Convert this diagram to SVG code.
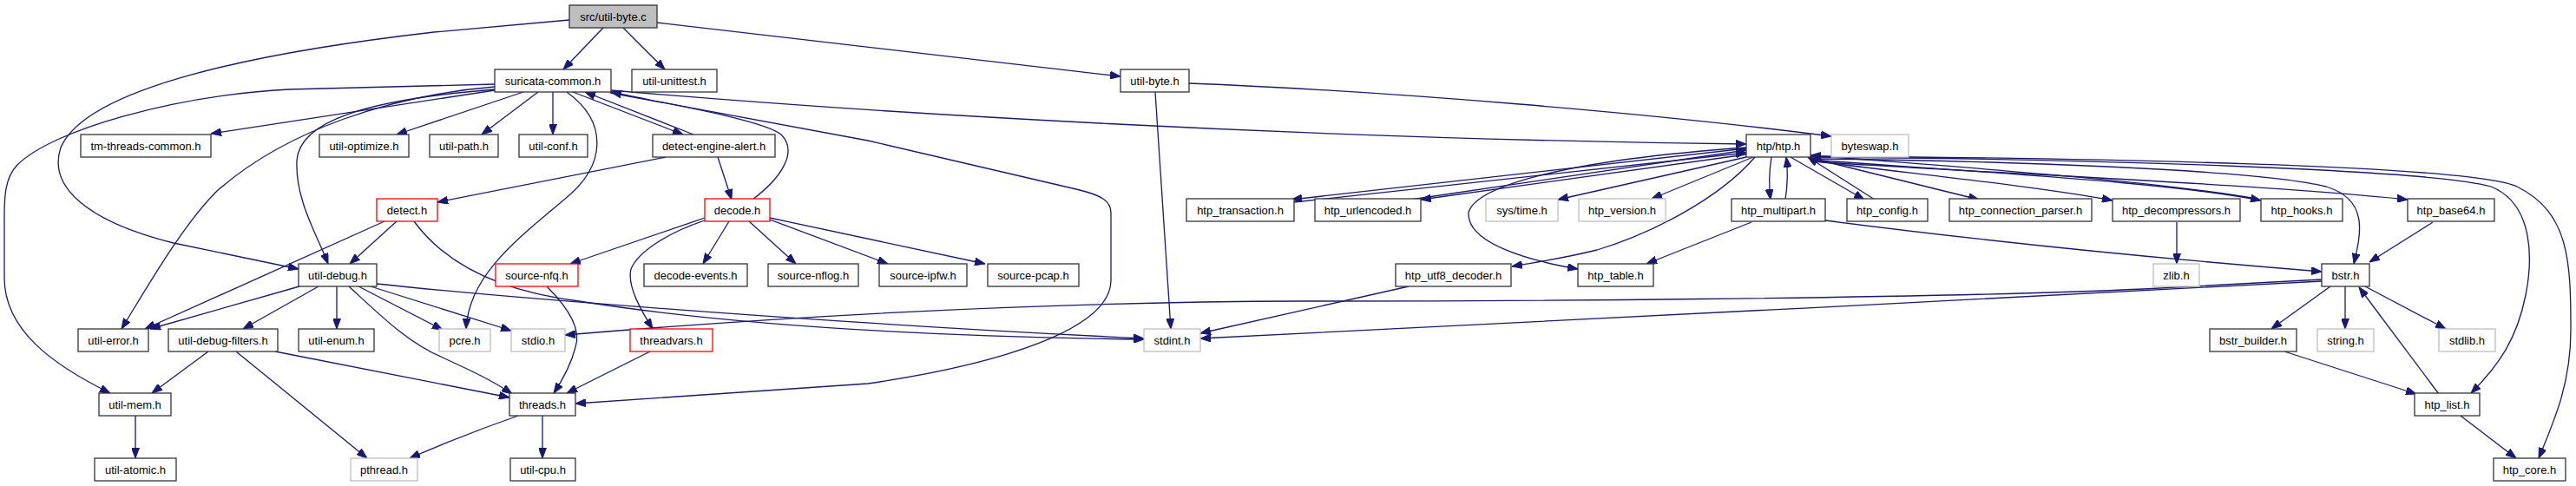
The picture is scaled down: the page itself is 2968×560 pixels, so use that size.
<svg xmlns="http://www.w3.org/2000/svg" width="2968" height="560" viewBox="0 0 2968 560">
<style>
.n rect{fill:#fff;stroke:#333;stroke-width:1.3}
.n.g rect{stroke:#bfbfbf}
.n.r rect{stroke:#ff0000}
.n.root rect{fill:#bfbfbf}
.n text{font-family:"Liberation Sans",Arial,sans-serif;font-size:13px;text-anchor:middle;fill:#000}
.e path{fill:none;stroke:#191970;stroke-width:1.3;marker-end:url(#a)}
</style>
<defs>
<marker id="a" viewBox="0 0 12 9" refX="12" refY="4.5" markerWidth="12" markerHeight="9" markerUnits="userSpaceOnUse" orient="auto"><path d="M0,0L12,4.5L0,9z" fill="#191970" stroke="#191970" stroke-width="1"/></marker>
</defs>
<rect width="2968" height="560" fill="#fff"/>
<g id="edges" class="e">
<path d="M695,32L649,80"/>
<path d="M718,32L766,80"/>
<path d="M757,26L1291,88"/>
<path d="M656,23L500,37C300,60 100,100 70,170C55,215 100,255 200,280L344,310"/>
<path d="M570,104L243,154"/>
<path d="M603,106L457,155"/>
<path d="M620,106L555,155"/>
<path d="M637,106L637,155"/>
<path d="M660,106L787,155"/>
<path d="M799,155L674,106"/>
<path d="M867,230C900,205 920,175 900,155C880,138 760,118 704,106"/>
<path d="M704,104C1000,130 1500,160 2012,166"/>
<path d="M703,107L1000,162L1240,218C1270,225 1280,232 1280,245L1280,323C1280,380 1150,420 1000,442L663,465"/>
<path d="M570,97L333,103C200,110 60,150 20,190C5,205 5,230 5,250L5,320C5,380 60,420 127,453"/>
<path d="M570,100C450,110 330,150 250,220C210,260 170,330 140,379"/>
<path d="M570,103C420,115 345,140 342,185C340,230 365,270 378,304"/>
<path d="M653,106C700,140 700,190 650,230C590,280 540,320 537,379"/>
<path d="M767,181L504,233"/>
<path d="M827,181L843,230"/>
<path d="M443,255L167,379"/>
<path d="M457,255L403,304"/>
<path d="M477,255C510,300 570,335 667,347C800,368 1000,387 1318,391"/>
<path d="M434,327C600,345 1000,375 1318,390"/>
<path d="M345,330L173,379"/>
<path d="M367,330L280,379"/>
<path d="M388,330L388,379"/>
<path d="M413,330L510,380"/>
<path d="M427,330L589,381"/>
<path d="M402,330C440,365 470,395 510,412C545,428 570,440 590,454"/>
<path d="M240,405L175,453"/>
<path d="M272,405L423,528"/>
<path d="M317,405L587,458"/>
<path d="M156,479L156,528"/>
<path d="M597,479C560,492 520,507 472,528"/>
<path d="M625,479L625,528"/>
<path d="M630,330C655,355 670,380 663,400C658,420 648,438 638,453"/>
<path d="M749,405L653,453"/>
<path d="M812,251L657,304"/>
<path d="M812,254C770,268 735,290 727,310C722,330 740,360 752,379"/>
<path d="M840,255L810,304"/>
<path d="M863,255L917,304"/>
<path d="M887,253L1023,304"/>
<path d="M887,251L1135,304"/>
<path d="M1370,96C1600,105 1900,130 2110,157"/>
<path d="M1331,106L1349,379"/>
<path d="M2012,171L1488,230"/>
<path d="M1491,233L2012,176"/>
<path d="M2012,178L1637,230"/>
<path d="M1625,230L2012,173"/>
<path d="M2012,181L1795,230"/>
<path d="M2020,181L1903,229"/>
<path d="M2022,181C1980,230 1900,270 1840,288C1800,298 1770,302 1742,307"/>
<path d="M2012,170C1800,185 1700,215 1692,245C1690,280 1760,300 1818,310"/>
<path d="M2041,181C2038,200 2038,215 2040,230"/>
<path d="M2057,230C2060,210 2060,195 2058,181"/>
<path d="M2063,181L2148,230"/>
<path d="M2160,230L2083,181"/>
<path d="M2086,182L2280,230"/>
<path d="M2086,185C2200,200 2350,215 2434,231"/>
<path d="M2086,184C2300,200 2500,210 2605,231"/>
<path d="M2600,229C2480,208 2250,192 2086,179"/>
<path d="M2086,186C2300,200 2600,212 2774,230"/>
<path d="M2086,183C2300,185 2600,195 2680,215C2730,230 2720,270 2712,304"/>
<path d="M2086,181C2400,183 2800,195 2870,215C2920,235 2918,300 2910,340C2900,390 2880,420 2847,453"/>
<path d="M2086,180C2400,182 2850,190 2900,215C2960,245 2962,300 2962,380C2962,440 2945,480 2925,528"/>
<path d="M2103,254C2250,273 2450,295 2675,313"/>
<path d="M2018,256L1897,304"/>
<path d="M2508,256L2508,304"/>
<path d="M2803,256L2730,302"/>
<path d="M1623,330L1383,384"/>
<path d="M2675,322L2470,333C2200,345 1700,347 1500,347C1200,348 900,365 651,386"/>
<path d="M2675,324C2300,342 1700,377 1383,390"/>
<path d="M2685,330L2617,379"/>
<path d="M2702,330L2702,379"/>
<path d="M2725,330L2818,379"/>
<path d="M2632,405L2784,454"/>
<path d="M2810,454L2718,331"/>
<path d="M2835,479L2899,528"/>
</g>
<g id="n_root" class="n root"><rect x="656" y="6" width="101" height="26"/><text x="706.5" y="23.5">src/util-byte.c</text></g>
<g id="n_suricata_common" class="n"><rect x="570" y="80" width="134" height="26"/><text x="637" y="97.5">suricata-common.h</text></g>
<g id="n_util_unittest" class="n"><rect x="728" y="80" width="98" height="26"/><text x="777" y="97.5">util-unittest.h</text></g>
<g id="n_util_byte_h" class="n"><rect x="1291" y="80" width="79" height="26"/><text x="1330.5" y="97.5">util-byte.h</text></g>
<g id="n_tm_threads_common" class="n"><rect x="93" y="155" width="150" height="26"/><text x="168" y="172.5">tm-threads-common.h</text></g>
<g id="n_util_optimize" class="n"><rect x="368" y="155" width="103" height="26"/><text x="419.5" y="172.5">util-optimize.h</text></g>
<g id="n_util_path" class="n"><rect x="495" y="155" width="79" height="26"/><text x="534.5" y="172.5">util-path.h</text></g>
<g id="n_util_conf" class="n"><rect x="598" y="155" width="79" height="26"/><text x="637.5" y="172.5">util-conf.h</text></g>
<g id="n_detect_engine_alert" class="n"><rect x="752" y="155" width="141" height="26"/><text x="822.5" y="172.5">detect-engine-alert.h</text></g>
<g id="n_htp_h" class="n"><rect x="2012" y="155" width="74" height="26"/><text x="2049" y="172.5">htp/htp.h</text></g>
<g id="n_byteswap" class="n g"><rect x="2110" y="155" width="89" height="26"/><text x="2154.5" y="172.5">byteswap.h</text></g>
<g id="n_detect" class="n r"><rect x="434" y="229" width="70" height="26"/><text x="469" y="246.5">detect.h</text></g>
<g id="n_decode" class="n r"><rect x="812" y="229" width="75" height="26"/><text x="849.5" y="246.5">decode.h</text></g>
<g id="n_htp_transaction" class="n"><rect x="1367" y="229" width="124" height="26"/><text x="1429" y="246.5">htp_transaction.h</text></g>
<g id="n_htp_urlencoded" class="n"><rect x="1515" y="229" width="122" height="26"/><text x="1576" y="246.5">htp_urlencoded.h</text></g>
<g id="n_sys_time" class="n g"><rect x="1712" y="229" width="83" height="26"/><text x="1753.5" y="246.5">sys/time.h</text></g>
<g id="n_htp_version" class="n g"><rect x="1819" y="229" width="100" height="26"/><text x="1869" y="246.5">htp_version.h</text></g>
<g id="n_htp_multipart" class="n"><rect x="1995" y="229" width="108" height="26"/><text x="2049" y="246.5">htp_multipart.h</text></g>
<g id="n_htp_config" class="n"><rect x="2128" y="229" width="93" height="26"/><text x="2174.5" y="246.5">htp_config.h</text></g>
<g id="n_htp_connection_parser" class="n"><rect x="2246" y="229" width="164" height="26"/><text x="2328" y="246.5">htp_connection_parser.h</text></g>
<g id="n_htp_decompressors" class="n"><rect x="2434" y="229" width="147" height="26"/><text x="2507.5" y="246.5">htp_decompressors.h</text></g>
<g id="n_htp_hooks" class="n"><rect x="2605" y="229" width="94" height="26"/><text x="2652" y="246.5">htp_hooks.h</text></g>
<g id="n_htp_base64" class="n"><rect x="2774" y="229" width="100" height="26"/><text x="2824" y="246.5">htp_base64.h</text></g>
<g id="n_util_debug" class="n"><rect x="344" y="304" width="90" height="26"/><text x="389" y="321.5">util-debug.h</text></g>
<g id="n_source_nfq" class="n r"><rect x="571" y="304" width="95" height="26"/><text x="618.5" y="321.5">source-nfq.h</text></g>
<g id="n_decode_events" class="n"><rect x="742" y="304" width="119" height="26"/><text x="801.5" y="321.5">decode-events.h</text></g>
<g id="n_source_nflog" class="n"><rect x="885" y="304" width="104" height="26"/><text x="937" y="321.5">source-nflog.h</text></g>
<g id="n_source_ipfw" class="n"><rect x="1013" y="304" width="101" height="26"/><text x="1063.5" y="321.5">source-ipfw.h</text></g>
<g id="n_source_pcap" class="n"><rect x="1138" y="304" width="105" height="26"/><text x="1190.5" y="321.5">source-pcap.h</text></g>
<g id="n_htp_utf8_decoder" class="n"><rect x="1608" y="304" width="133" height="26"/><text x="1674.5" y="321.5">htp_utf8_decoder.h</text></g>
<g id="n_htp_table" class="n"><rect x="1818" y="304" width="87" height="26"/><text x="1861.5" y="321.5">htp_table.h</text></g>
<g id="n_zlib" class="n g"><rect x="2481" y="304" width="53" height="26"/><text x="2507.5" y="321.5">zlib.h</text></g>
<g id="n_bstr" class="n"><rect x="2675" y="304" width="55" height="26"/><text x="2702.5" y="321.5">bstr.h</text></g>
<g id="n_util_error" class="n"><rect x="90" y="379" width="81" height="26"/><text x="130.5" y="396.5">util-error.h</text></g>
<g id="n_util_debug_filters" class="n"><rect x="194" y="379" width="126" height="26"/><text x="257" y="396.5">util-debug-filters.h</text></g>
<g id="n_util_enum" class="n"><rect x="344" y="379" width="87" height="26"/><text x="387.5" y="396.5">util-enum.h</text></g>
<g id="n_pcre" class="n g"><rect x="506" y="379" width="59" height="26"/><text x="535.5" y="396.5">pcre.h</text></g>
<g id="n_stdio" class="n g"><rect x="589" y="379" width="62" height="26"/><text x="620" y="396.5">stdio.h</text></g>
<g id="n_threadvars" class="n r"><rect x="726" y="379" width="95" height="26"/><text x="773.5" y="396.5">threadvars.h</text></g>
<g id="n_stdint" class="n g"><rect x="1318" y="379" width="65" height="26"/><text x="1350.5" y="396.5">stdint.h</text></g>
<g id="n_bstr_builder" class="n"><rect x="2546" y="379" width="100" height="26"/><text x="2596" y="396.5">bstr_builder.h</text></g>
<g id="n_string" class="n g"><rect x="2670" y="379" width="65" height="26"/><text x="2702.5" y="396.5">string.h</text></g>
<g id="n_stdlib" class="n g"><rect x="2810" y="379" width="65" height="26"/><text x="2842.5" y="396.5">stdlib.h</text></g>
<g id="n_util_mem" class="n"><rect x="114" y="453" width="83" height="26"/><text x="155.5" y="470.5">util-mem.h</text></g>
<g id="n_threads" class="n"><rect x="587" y="453" width="76" height="26"/><text x="625" y="470.5">threads.h</text></g>
<g id="n_htp_list" class="n"><rect x="2782" y="453" width="75" height="26"/><text x="2819.5" y="470.5">htp_list.h</text></g>
<g id="n_util_atomic" class="n"><rect x="109" y="528" width="94" height="26"/><text x="156" y="545.5">util-atomic.h</text></g>
<g id="n_pthread" class="n g"><rect x="404" y="528" width="77" height="26"/><text x="442.5" y="545.5">pthread.h</text></g>
<g id="n_util_cpu" class="n"><rect x="588" y="528" width="75" height="26"/><text x="625.5" y="545.5">util-cpu.h</text></g>
<g id="n_htp_core" class="n"><rect x="2873" y="528" width="83" height="26"/><text x="2914.5" y="545.5">htp_core.h</text></g>
</svg>
